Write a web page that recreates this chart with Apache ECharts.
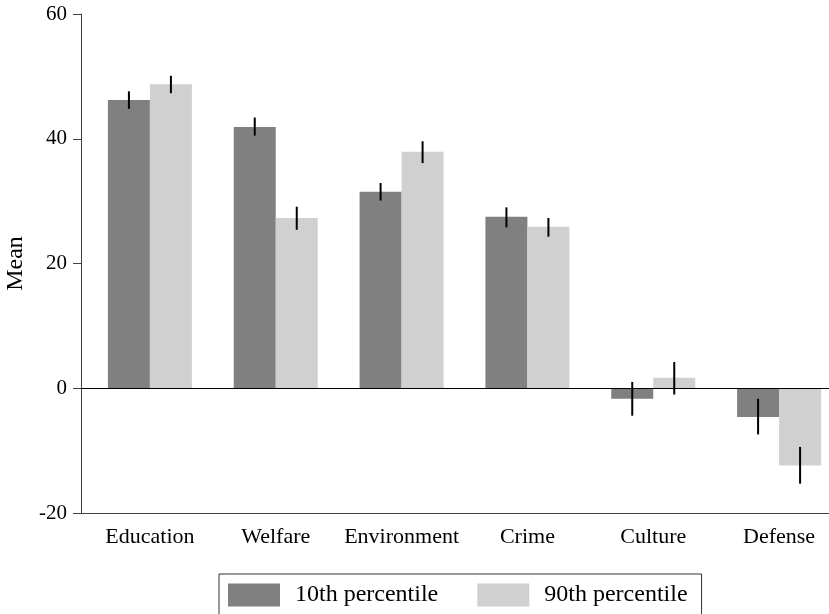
<!DOCTYPE html>
<html>
<head>
<meta charset="utf-8">
<script src="https://cdn.jsdelivr.net/npm/echarts@6/dist/echarts.min.js"></script>
<style>
html,body{margin:0;padding:0;background:#fff;}
#chart{width:829px;height:614px;}
</style>
</head>
<body>
<div id="chart"></div>
<script>
const categories = ['Education', 'Welfare', 'Environment', 'Crime', 'Culture', 'Defense'];
const seriesNames = ['10th percentile', '90th percentile'];
const p10Mean = [46.2, 41.9, 31.5, 27.5, -1.7, -4.6];
const p90Mean = [48.75, 27.3, 37.9, 25.9, 1.7, -12.4];
const p10Low = [44.8, 40.5, 30.1, 25.8, -4.4, -7.4];
const p10High = [47.6, 43.4, 32.9, 29.0, 1.0, -1.7];
const p90Low = [47.3, 25.4, 36.1, 24.3, -1.0, -15.3];
const p90High = [50.1, 29.1, 39.6, 27.3, 4.2, -9.4];
const yTicks = [-20, 0, 20, 40, 60];

const FONT = 'Liberation Serif';
const BAR_W = 42;
const colors = ['#808080', '#d0d0d0'];

function errData(low, high) {
  return categories.map((c, i) => [i, low[i], high[i]]);
}
function makeErr(offset) {
  return function (params, api) {
    const i = api.value(0);
    const x = api.coord([i, 0])[0] + offset;
    const y1 = api.coord([i, api.value(1)])[1];
    const y2 = api.coord([i, api.value(2)])[1];
    return {
      type: 'line',
      shape: { x1: x, y1: y1, x2: x, y2: y2 },
      style: { stroke: '#000', lineWidth: 2 }
    };
  };
}

const yMin = yTicks[0], yMax = yTicks[yTicks.length - 1];
const rect = { left: 81, right: 0, top: 14, bottom: 101, containLabel: false, outerBoundsMode: 'none' };

const chart = echarts.init(document.getElementById('chart'));
chart.setOption({
  animation: false,
  textStyle: { fontFamily: FONT, color: '#000' },
  grid: [
    Object.assign({}, rect),
    { left: 87, right: -13, top: 14, bottom: 101, containLabel: false, outerBoundsMode: 'none' },
    Object.assign({}, rect)
  ],
  xAxis: [
    { gridIndex: 0, type: 'value', min: 0, max: 1, position: 'bottom',
      axisLine: { show: true, onZero: false, lineStyle: { color: '#404040', width: 1 } },
      axisTick: { show: false }, axisLabel: { show: false }, splitLine: { show: false } },
    { gridIndex: 1, type: 'category', data: categories,
      axisLine: { show: false }, axisTick: { show: false },
      axisLabel: { interval: 0, fontFamily: FONT, fontSize: 22, color: '#000', margin: 13 } },
    { gridIndex: 2, type: 'value', min: 0, max: 1, z: 5,
      axisLine: { show: true, onZero: true, lineStyle: { color: '#000', width: 1 } },
      axisTick: { show: false }, axisLabel: { show: false }, splitLine: { show: false } }
  ],
  yAxis: [
    { gridIndex: 0, type: 'value', min: yMin, max: yMax, interval: 20,
      name: 'Mean', nameLocation: 'middle', nameGap: 53, nameRotate: 90,
      nameTextStyle: { fontFamily: FONT, fontSize: 24, color: '#000' },
      axisLine: { show: true, lineStyle: { color: '#404040', width: 1 } },
      axisTick: { show: true, length: 8, lineStyle: { color: '#404040' } },
      axisLabel: { fontFamily: FONT, fontSize: 21, color: '#000', margin: 14 },
      splitLine: { show: false } },
    { gridIndex: 1, type: 'value', min: yMin, max: yMax, show: false },
    { gridIndex: 2, type: 'value', min: yMin, max: yMax, show: false }
  ],
  legend: {
    data: seriesNames,
    left: 219, top: 574,
    itemWidth: 52, itemHeight: 23, itemGap: 39,
    padding: [9, 14, 9, 9],
    borderColor: '#333', borderWidth: 1,
    icon: 'rect',
    textStyle: { fontFamily: FONT, fontSize: 24, color: '#000', padding: [0, 0, 0, 10] }
  },
  series: [
    { name: seriesNames[0], type: 'bar', xAxisIndex: 1, yAxisIndex: 1,
      data: p10Mean, barWidth: BAR_W, barGap: '0%', itemStyle: { color: colors[0] } },
    { name: seriesNames[1], type: 'bar', xAxisIndex: 1, yAxisIndex: 1,
      data: p90Mean, barWidth: BAR_W, barGap: '0%', itemStyle: { color: colors[1] } },
    { name: 'err10', type: 'custom', xAxisIndex: 1, yAxisIndex: 1, z: 10,
      data: errData(p10Low, p10High), encode: { x: 0, y: [1, 2] },
      renderItem: makeErr(-BAR_W / 2) },
    { name: 'err90', type: 'custom', xAxisIndex: 1, yAxisIndex: 1, z: 10,
      data: errData(p90Low, p90High), encode: { x: 0, y: [1, 2] },
      renderItem: makeErr(BAR_W / 2) }
  ]
});
</script>
</body>
</html>
